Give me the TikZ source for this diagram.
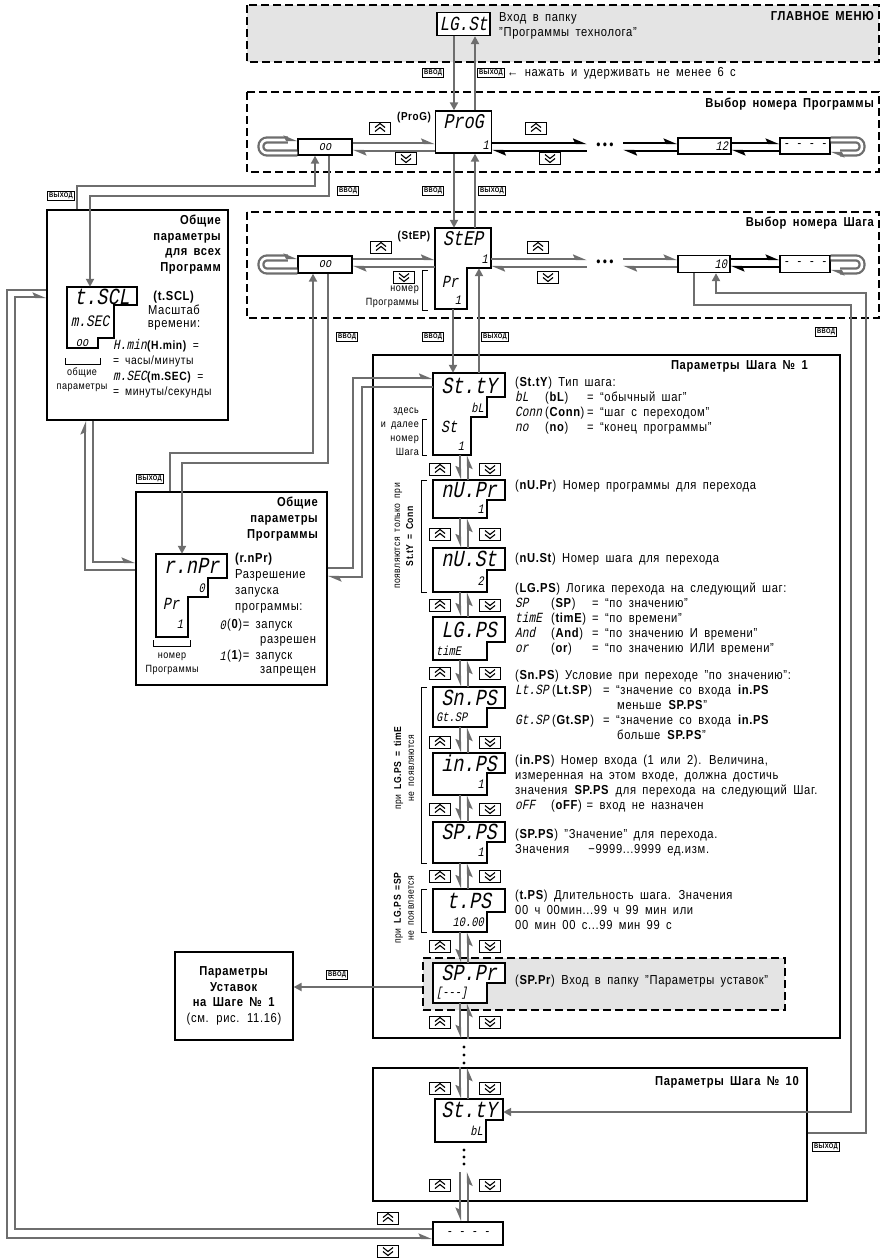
\documentclass[tikz,border=0pt]{standalone}
\usepackage{fontspec}
\setmainfont{Liberation Sans}[FakeStretch=0.86, LetterSpace=5, WordSpace=1.7]
\newfontfamily\segf{Liberation Mono}[FakeSlant=0.2, FakeStretch=0.8]
\usetikzlibrary{arrows.meta}
\definecolor{lnk}{RGB}{110,110,110}
\definecolor{pane}{RGB}{228,228,228}
\newcommand\segw{\segf\fontsize{14}{14}\selectfont}
\begin{document}
\begin{tikzpicture}[x=1pt, y=-1pt, font=\fontsize{13}{15}\selectfont,
  lk/.style={draw=lnk, line width=2.4pt},
  tip/.style={-{Triangle[length=8pt,width=8pt]}},
  hp/.style={-{Stealth[harpoon,length=11pt,width=9pt,inset=2pt]}},
  hps/.style={-{Stealth[harpoon,swap,length=11pt,width=9pt,inset=2pt]}},
  hollow/.style={draw=lnk, line width=2.3pt, double=white, double distance=2.6pt},
  dframe/.style={draw, line width=1.4pt, dash pattern=on 8pt off 4pt},
  frame/.style={draw, line width=1.2pt, inner sep=0pt},
  dsp/.style={draw, line width=1.3pt, fill=white},
  box/.style={dsp, inner sep=0pt},
  area/.style={inner sep=0pt},
  sgL/.style={font=\segf\fontsize{23}{23}\selectfont, inner sep=0pt},
  sgM/.style={font=\segf\fontsize{17}{17}\selectfont, inner sep=0pt},
  sgS/.style={font=\segf\fontsize{13}{13}\selectfont, inner sep=0pt},
  key/.style={draw, line width=0.8pt, inner sep=1.6pt, font=\fontsize{6.8}{6.8}\selectfont\bfseries},
  btn/.style={draw, line width=0.9pt, minimum width=21pt, minimum height=12pt, inner sep=0pt},
  bup/.style={btn, path picture={\foreach \s in {0.5pt,-3.5pt}
      \draw[line width=1.1pt] ([shift={(-5pt,\s)}]path picture bounding box.center) -- ++(5pt,4pt) -- ++(5pt,-4pt);}},
  bdn/.style={btn, path picture={\foreach \s in {3.5pt,-0.5pt}
      \draw[line width=1.1pt] ([shift={(-5pt,\s)}]path picture bounding box.center) -- ++(5pt,-4pt) -- ++(5pt,4pt);}},
  ttl/.style={font=\fontsize{13}{15.5}\selectfont\bfseries, align=right, inner sep=0pt},
  txt/.style={align=left, inner sep=0pt, anchor=north west},
  note/.style={font=\fontsize{10.5}{14}\selectfont, inner sep=0pt}]
\useasboundingbox (0,0) rectangle (881,1258);

% main menu
\draw[dframe, fill=pane] (247,5) rectangle (879,62);
\node[ttl, anchor=north east] (tmain) at (874,11) {ГЛАВНОЕ МЕНЮ};
\node[box, minimum width=53pt, minimum height=23pt, sgL, font=\segf\fontsize{20}{20}\selectfont] (lgst) at (463.5,24) {LG.St};
\node[txt] (tlgst) at (499,12) {Вход в папку\\"Программы технолога"};
\node[key] (k1) at (433,73) {ВВОД};
\node[key] (k2) at (491,73) {ВЫХОД};
\node[anchor=west, inner sep=0pt] (thold) at (507,73) {← нажать и удерживать не менее 6 с};

% program choice
\draw[dframe] (247,92) rectangle (879,172);
\node[ttl, anchor=north east] (tprg) at (874,98) {Выбор номера Программы};
\node[box, minimum width=56pt, minimum height=42pt] (prog) at (463.5,132) {};
\node[sgL, font=\segf\fontsize{21}{21}\selectfont] (prog-a) at (463.5,122) {ProG};
\node[sgS, anchor=east] (prog-b) at (489,145) {1};
\node[font=\fontsize{11.5}{11.5}\selectfont\bfseries, inner sep=0pt] (prog-l) at (414,118) {(ProG)};
\node[bup] (pu1) at (380,128) {};
\node[bdn] (pd1) at (406,158) {};
\node[bup] (pu2) at (536,128) {};
\node[bdn] (pd2) at (550,158) {};
\node[box, minimum width=54pt, minimum height=16pt, sgS] (pgoo) at (325,147) {oo};
\node[area, minimum width=36pt, font=\fontsize{14}{14}\selectfont] (pgdots) at (605,146) {•\,•\,•};
\node[box, minimum width=53pt, minimum height=16pt, sgS, text width=47pt, align=right] (pg12) at (704.5,146) {12};
\node[box, minimum width=50pt, minimum height=16pt, sgS] (pgend) at (805,146) {- - - -};
\draw[lk, tip] (lgst.south -| 454,0) -- (prog.north -| 454,0);
\draw[lk, tip] (prog.north -| 475,0) -- (lgst.south -| 475,0);
\foreach \pa/\pb/\c in {pgoo/prog/lnk, prog/pgdots/black, pgdots/pg12/black, pg12/pgend/black}{
  \draw[lk, draw=\c, hp] (\pa.east |- 0,143) -- (\pb.west |- 0,143);
  \draw[lk, draw=\c, hp] (\pb.west |- 0,151) -- (\pa.east |- 0,151);
}
\draw[hollow, hp, rounded corners=6pt] (pgoo.west |- 0,153) -- (261,153) -- (261,140) -- (pgoo.west |- 0,140);
\draw[hollow, hp, rounded corners=6pt] (pgend.east |- 0,140) -- (862,140) -- (862,153) -- (pgend.east |- 0,153);

% step choice
\draw[dframe] (247,212) rectangle (879,318);
\node[ttl, anchor=north east] (tstp) at (874,217) {Выбор номера Шага};
\draw[dsp] (435,228) -| (491,268) -| (467,309) -| cycle;
\node[area, minimum width=56pt, minimum height=40pt] (step) at (463,248) {};
\node[area, minimum width=32pt, minimum height=41pt] (stepl) at (451,288.5) {};
\node[sgL, font=\segf\fontsize{21}{21}\selectfont] (step-a) at (463,239) {StEP};
\node[sgS, anchor=east] (step-b) at (488,259) {1};
\node[sgM] (step-c) at (450,282) {Pr};
\node[sgS] (step-d) at (458,300) {1};
\node[font=\fontsize{11.5}{11.5}\selectfont\bfseries, inner sep=0pt] (step-l) at (414,237) {(StEP)};
\node[bup] (su1) at (381,247) {};
\node[bdn] (sd1) at (404,277) {};
\node[bup] (su2) at (538,247) {};
\node[bdn] (sd2) at (548,277) {};
\node[note, align=right, anchor=east] (t-num2) at (419,296.5) {номер\\Программы};
\draw[line width=0.6pt] (428,270) -- (422,270) -- (422,310) -- (428,310);
\node[box, minimum width=54pt, minimum height=17pt, sgS] (stoo) at (325,264.5) {oo};
\node[area, minimum width=36pt, font=\fontsize{14}{14}\selectfont] (stdots) at (605,263) {•\,•\,•};
\node[box, minimum width=52pt, minimum height=17pt, sgS, text width=46pt, align=right] (st10) at (704,264) {10};
\node[box, minimum width=50pt, minimum height=17pt, sgS] (stend) at (805,264) {- - - -};
\draw[lk, tip] (prog.south -| 454,0) -- (step.north -| 454,0);
\draw[lk, tip] (step.north -| 475,0) -- (prog.south -| 475,0);
\foreach \pa/\pb/\c in {stoo/step/lnk, step/stdots/lnk, stdots/st10/lnk, st10/stend/black}{
  \draw[lk, draw=\c, hp] (\pa.east |- 0,259) -- (\pb.west |- 0,259);
  \draw[lk, draw=\c, hp] (\pb.west |- 0,267) -- (\pa.east |- 0,267);
}
\draw[hollow, hp, rounded corners=6pt] (stoo.west |- 0,271) -- (261,271) -- (261,258) -- (stoo.west |- 0,258);
\draw[hollow, hp, rounded corners=6pt] (stend.east |- 0,258) -- (862,258) -- (862,271) -- (stend.east |- 0,271);
\node[key] (k1b) at (61,196) {ВЫХОД};
\node[key] (k2b) at (348,191) {ВВОД};
\node[key] (k3b) at (433,191) {ВВОД};
\node[key] (k4b) at (492,191) {ВЫХОД};
\node[key] (k5b) at (347,337) {ВВОД};
\node[key] (k6b) at (433,337) {ВВОД};
\node[key] (k7b) at (495,337) {ВЫХОД};
\node[key] (k8b) at (826,332) {ВВОД};

% parameters of step 1
\node[frame, minimum width=467pt, minimum height=683pt] (stp1) at (606.5,696.5) {};
\node[ttl, anchor=north east] (tstp1) at (808,360) {Параметры Шага № 1};
\node[dframe, fill=pane, minimum width=362pt, minimum height=52pt] (spfr) at (604,984) {};
\draw[dsp] (433,373) -| (505,397) -| (487,417) -| (471,455) -| cycle;
\node[area, minimum width=72pt, minimum height=82pt] (sty) at (469,414) {};
\node[sgL] (sty-a) at (469,385.5) {St.tY};
\node[sgS, anchor=east] (sty-b) at (484,407.5) {bL};
\node[sgM] (sty-c) at (449,427) {St};
\node[sgS] (sty-d) at (461,446) {1};
\foreach \nm/\ya/\yb/\yc/\up/\lo/\an/\xx in {nupr/480/500/518/nU.Pr/1/east/484, nust/548/570/592/nU.St/2/east/484,
    lgps/617/642/660/LG.PS/timE/west/436, snps/687/708/727/Sn.PS/Gt.SP/west/436, inps/753/773/795/in.PS/1/east/484,
    spps/822/842/863/SP.PS/1/east/484, tps/889/912/932/t.PS/10.00/east/484, sppr/963/983/1003/SP.Pr/{[-{}-{}-]}/west/436}{
  \draw[dsp] (433,\ya) -| (505,\yb) -| (487,\yc) -| cycle;
  \node[area, minimum width=72pt, minimum height={(\yc-\ya)*1pt}] (\nm) at (469,{(\ya+\yc)/2}) {};
  \node[sgL] (\nm-a) at (469,{(\ya+\yb)/2}) {\up};
  \node[sgS, anchor=\an] (\nm-b) at (\xx,{(\yb+\yc)/2}) {\lo};
}
\foreach \pa/\pb/\py in {sty/nupr/469, nupr/nust/534, nust/lgps/605, lgps/snps/673, snps/inps/742, inps/spps/809, spps/tps/876, tps/sppr/946}{
  \draw[lk, hps] (\pa.south -| 460,0) -- (\pb.north -| 460,0);
  \draw[lk, hps] (\pb.north -| 468,0) -- (\pa.south -| 468,0);
  \node[bup] (u-\pa) at (440,\py) {};
  \node[bdn] (d-\pa) at (490,\py) {};
}
\draw[lk, hps] (sppr.south -| 460,0) -- (stp1.south -| 460,0);
\draw[lk, hps] (stp1.south -| 468,0) -- (sppr.south -| 468,0);
\node[bup] (u-sppr) at (440,1022) {};
\node[bdn] (d-sppr) at (490,1022) {};
\draw[lk, tip] (stepl.south -| 453,0) -- (sty.north -| 453,0);
\draw[lk, tip] (sty.north -| 479,0) -- (step.south -| 479,0);

\node[txt] (d-sty) at (515,377) {(\textbf{St.tY}) Тип шага:\\
  \makebox[30pt][l]{\segw bL}\makebox[42pt][l]{(\textbf{bL})}= “обычный шаг"\\
  \makebox[30pt][l]{\segw Conn}\makebox[42pt][l]{(\textbf{Conn})}= “шаг с переходом"\\
  \makebox[30pt][l]{\segw no}\makebox[42pt][l]{(\textbf{no})}= “конец программы"};
\node[txt] (d-nupr) at (515,480) {(\textbf{nU.Pr}) Номер программы для перехода};
\node[txt] (d-nust) at (515,553) {(\textbf{nU.St}) Номер шага для перехода};
\node[txt] (d-lgps) at (515,583) {(\textbf{LG.PS}) Логика перехода на следующий шаг:\\
  \makebox[36pt][l]{\segw SP}\makebox[41pt][l]{(\textbf{SP})}= “по значению"\\
  \makebox[36pt][l]{\segw timE}\makebox[41pt][l]{(\textbf{timE})}= “по времени"\\
  \makebox[36pt][l]{\segw And}\makebox[41pt][l]{(\textbf{And})}= “по значению И времени"\\
  \makebox[36pt][l]{\segw or}\makebox[41pt][l]{(\textbf{or})}= “по значению ИЛИ времени"};
\node[txt] (d-snps) at (515,670) {(\textbf{Sn.PS}) Условие при переходе "по значению":\\
  \makebox[37pt][l]{\segw Lt.SP}\makebox[51pt][l]{(\textbf{Lt.SP})}= “значение со входа \textbf{in.PS}\\
  \hspace*{102pt}меньше \textbf{SP.PS}"\\
  \makebox[37pt][l]{\segw Gt.SP}\makebox[51pt][l]{(\textbf{Gt.SP})}= “значение со входа \textbf{in.PS}\\
  \hspace*{102pt}больше \textbf{SP.PS}"};
\node[txt] (d-inps) at (515,755) {(\textbf{in.PS}) Номер входа (1 или 2). Величина,\\
  измеренная на этом входе, должна достичь\\
  значения \textbf{SP.PS} для перехода на следующий Шаг.\\
  \makebox[36pt][l]{\segw oFF}(\textbf{oFF})\hspace{5pt}= вход не назначен};
\node[txt] (d-spps) at (515,829) {(\textbf{SP.PS}) "Значение" для перехода.\\Значения \ \ −9999...9999 ед.изм.};
\node[txt] (d-tps) at (515,890) {(\textbf{t.PS}) Длительность шага. Значения\\00 ч 00мин...99 ч 99 мин или\\00 мин 00 с...99 мин 99 с};
\node[anchor=west, inner sep=0pt] (d-sppr) at (515,981) {(\textbf{SP.Pr}) Вход в папку "Параметры уставок"};

\node[note, align=right, anchor=east] (t-here) at (419,432) {здесь\\и далее\\номер\\Шага};
\draw[line width=0.6pt] (427,419) -- (422,419) -- (422,455) -- (427,455);
\node[note, font=\fontsize{10}{13}\selectfont, rotate=90, align=center] (t-conn) at (404,536) {появляются только при\\\textbf{St.tY = Conn}};
\draw[line width=0.6pt] (427,480) -- (421,480) -- (421,592) -- (427,592);
\node[note, font=\fontsize{10}{13}\selectfont, rotate=90, align=center] (t-time) at (404,768) {при \textbf{LG.PS = timE}\\не появляются};
\draw[line width=0.6pt] (427,687) -- (421,687) -- (421,863) -- (427,863);
\node[note, font=\fontsize{10}{13}\selectfont, rotate=90, align=center] (t-sp) at (404,908) {при \textbf{LG.PS =SP}\\не появляется};
\draw[line width=0.6pt] (427,889) -- (421,889) -- (421,932) -- (427,932);

% setpoints
\node[frame, minimum width=118pt, minimum height=88pt, align=center, font=\fontsize{13}{15.5}\selectfont] (ust) at (234,996) {\textbf{Параметры}\\\textbf{Уставок}\\\textbf{на Шаге № 1}\\(см. рис. 11.16)};
\draw[lk, tip] (spfr.west |- 0,987) -- (ust.east |- 0,987);
\node[key] (k9b) at (337,975) {ВВОД};
\foreach \y in {1047,1055,1063} \fill (464,\y) circle (1.7pt);

% parameters of step 10
\node[frame, minimum width=434pt, minimum height=133pt] (stp10) at (590,1134.5) {};
\node[ttl, anchor=north east] (tstp10) at (799,1076) {Параметры Шага № 10};
\draw[dsp] (435,1099) -| (503,1120) -| (486,1142) -| cycle;
\node[area, minimum width=68pt, minimum height=43pt] (s10ty) at (469,1120.5) {};
\node[sgL] (s10ty-a) at (469,1110) {St.tY};
\node[sgS, anchor=east] (s10ty-b) at (483,1131) {bL};
\node[bup] (u-s10) at (440,1088) {};
\node[bdn] (d-s10) at (490,1088) {};
\draw[lk, hps] (stp10.north -| 460,0) -- (s10ty.north -| 460,0);
\draw[lk, hps] (s10ty.north -| 468,0) -- (stp10.north -| 468,0);
\foreach \y in {1150,1157,1164} \fill (464,\y) circle (1.7pt);
\coordinate (s10a) at (460,1172);
\coordinate (s10b) at (468,1172);
\node[bup] (u-s10b) at (440,1185) {};
\node[bdn] (d-s10b) at (490,1185) {};
\node[box, minimum width=70pt, minimum height=23pt, sgS] (lend) at (468,1233.5) {- - - -};
\draw[lk, hps] (s10a) -- (lend.north -| 460,0);
\draw[lk, hps] (lend.north -| 468,0) -- (s10b);
\node[bup] (u-end) at (388,1218) {};
\node[bdn] (d-end) at (388,1251) {};

% common parameters for all programs
\node[frame, minimum width=181pt, minimum height=210pt] (gall) at (137.5,315) {};
\node[ttl, anchor=north east] (t-gall) at (221,215) {Общие\\параметры\\для всех\\Программ};
\draw[dsp] (67,287) -| (137,305) -| (114,338) -| (98,348) -| cycle;
\node[area, minimum width=70pt, minimum height=61pt] (tscl) at (102,317.5) {};
\node[sgL] (tscl-a) at (102,296.5) {t.SCL};
\node[sgM, font=\segf\fontsize{16}{16}\selectfont] (tscl-b) at (90,321.5) {m.SEC};
\node[sgS] (tscl-c) at (82,343) {oo};
\draw[line width=0.6pt] (65,358) -- (65,364) -- (100,364) -- (100,358);
\node[note] (t-gen) at (82,380) [align=center] {общие\\параметры};
\node[align=center, inner sep=0pt, font=\fontsize{13}{13.5}\selectfont] (t-scl) at (174,311) {\textbf{(t.SCL)}\\Масштаб\\времени:};
\node[txt, font=\fontsize{12}{15.5}\selectfont] (t-sclv) at (113,339) {\makebox[34pt][l]{\segw H.min}\textbf{(H.min)} =\\= часы/минуты\\\makebox[34pt][l]{\segw m.SEC}\textbf{(m.SEC)} =\\= минуты/секунды};

% common parameters of the program
\node[frame, minimum width=191pt, minimum height=193pt] (gprg) at (231.5,588.5) {};
\node[ttl, anchor=north east, font=\fontsize{13}{16}\selectfont\bfseries] (t-gprg) at (318,497) {Общие\\параметры\\Программы};
\draw[dsp] (156,554) -| (227,578) -| (208,597) -| (188,637) -| cycle;
\node[area, minimum width=71pt, minimum height=83pt] (rnpr) at (191.5,595.5) {};
\node[sgL] (rnpr-a) at (191.5,566) {r.nPr};
\node[sgS, anchor=east] (rnpr-b) at (205,588) {0};
\node[sgM] (rnpr-c) at (171,604) {Pr};
\node[sgS] (rnpr-d) at (180,624) {1};
\node[txt, font=\fontsize{13}{16}\selectfont] (t-rnpr) at (235,553) {\textbf{(r.nPr)}\\Разрешение\\запуска\\программы:};
\node[sgS, anchor=east] (t-v0s) at (226,625) {0};
\node[anchor=west, inner sep=0pt] (t-v0) at (227,625) {(\textbf{0})= запуск};
\node[anchor=west, inner sep=0pt] (t-v0b) at (260,641) {разрешен};
\node[sgS, anchor=east] (t-v1s) at (226,656) {1};
\node[anchor=west, inner sep=0pt] (t-v1) at (227,656) {(\textbf{1})= запуск};
\node[anchor=west, inner sep=0pt] (t-v1b) at (260,671) {запрещен};
\draw[line width=0.6pt] (153,640) -- (153,646) -- (190,646) -- (190,640);
\node[note, align=center] (t-num) at (172,664) {номер\\Программы};
\node[key] (k10b) at (150,479) {ВЫХОД};

% connectors of the left part
\draw[lk, tip] (pgoo.south -| 329,0) |- (90,196) -- (tscl.north -| 90,0);
\draw[lk, tip] (gall.north -| 77,0) |- (315,186) -- (pgoo.south -| 315,0);
\draw[lk, tip] (gprg.north -| 170,0) |- (313,453) -- (stoo.south -| 313,0);
\draw[lk, tip] (stoo.south -| 328,0) |- (182,463) -- (rnpr.north -| 182,0);
\draw[lk, hp] (gprg.west |- 0,570) -| (gall.south -| 85,0);
\draw[lk, hp] (gall.south -| 93,0) |- (gprg.west |- 0,562);
\draw[lk, hp] (gprg.east |- 0,568) -| (353,378) -- (sty.west |- 0,378);
\draw[lk, hp] (sty.west |- 0,387) -| (362,577) -- (gprg.east |- 0,577);
\draw[lk, hp] (gall.west |- 0,290) -| (7,1238) -- (lend.west |- 0,1238);
\draw[lk, hp] (lend.west |- 0,1229) -| (15,297) -- (gall.west |- 0,297);

% connectors of the right part
\draw[lk, tip] (st10.south -| 694,0) |- (851,305) |- (s10ty.east |- 0,1112);
\draw[lk, tip] (stp10.east |- 0,1133) -| (866,293) -| (st10.south -| 716,0);
\node[key] (k11b) at (826,1147) {ВЫХОД};
\end{tikzpicture}
\end{document}
